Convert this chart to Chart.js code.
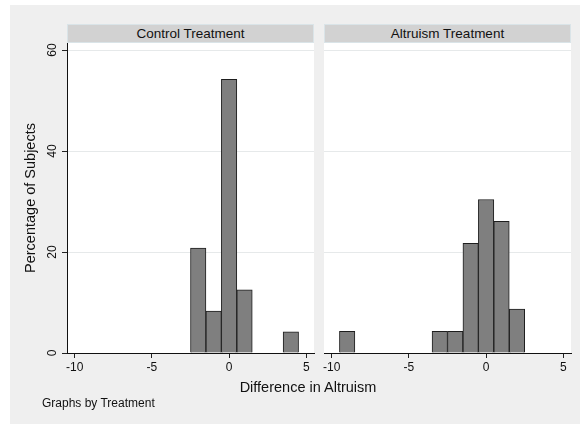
<!DOCTYPE html>
<html>
<head>
<meta charset="utf-8">
<script src="https://cdn.jsdelivr.net/npm/chart.js@4.4.1/dist/chart.umd.min.js"></script>
<style>
  html, body { margin: 0; padding: 0; background: #ffffff; }
  #wrap { position: relative; width: 580px; height: 426px; overflow: hidden; font-family: "Liberation Sans", Arial, sans-serif; color: #111; }
  #bg { position: absolute; left: 10px; top: 5px; width: 570px; height: 419px; background: #efefef; }
  canvas { position: absolute; left: 0; top: 0; }
  .strip { position: absolute; top: 24px; height: 17px; width: 245px; background: #d2d2d2; border: 1px solid #dae4e8;
           font-size: 13.5px; line-height: 17px; text-align: center; white-space: nowrap; }
  .txt { position: absolute; white-space: nowrap; line-height: 1; }
</style>
</head>
<body>
<div id="wrap">
  <div id="bg"></div>
  <canvas id="c1" width="580" height="426"></canvas>
  <canvas id="c2" width="580" height="426"></canvas>
  <div class="strip" id="s1" style="left:67px;"></div>
  <div class="strip" id="s2" style="left:324px;"></div>
  <div class="txt" id="xt" style="left:0; width:616px; text-align:center; top:380px; font-size:14.5px;"></div>
  <div class="txt" id="note" style="left:42px; top:397px; font-size:12px;"></div>
</div>
<script>
// ---- data ----
const panelTitles = ['Control Treatment', 'Altruism Treatment'];
const xTitle = 'Difference in Altruism';
const yTitle = 'Percentage of Subjects';
const noteText = 'Graphs by Treatment';
const xTicks = [-10, -5, 0, 5];
const yTicks = [0, 20, 40, 60];
const controlBins = [-2, -1, 0, 1, 4];
const controlPct = [20.8, 8.3, 54.2, 12.5, 4.2];
const altruismBins = [-9, -3, -2, -1, 0, 1, 2];
const altruismPct = [4.3, 4.3, 4.3, 21.7, 30.4, 26.1, 8.7];

document.getElementById('s1').textContent = panelTitles[0];
document.getElementById('s2').textContent = panelTitles[1];
document.getElementById('xt').textContent = xTitle;
document.getElementById('note').textContent = noteText;

const FONT = '"Liberation Sans", Arial, sans-serif';

const plotBg = {
  id: 'plotBg',
  beforeDraw(chart) {
    const a = chart.chartArea, ctx = chart.ctx;
    ctx.save();
    ctx.fillStyle = '#ffffff';
    ctx.fillRect(a.left, a.top, a.right - a.left, a.bottom - a.top);
    ctx.restore();
  }
};

function makeChart(id, bins, pct, isLeft) {
  const pts = bins.map((b, i) => ({ x: b, y: pct[i] }));
  return new Chart(document.getElementById(id), {
    type: 'bar',
    data: { datasets: [{
      data: pts,
      backgroundColor: '#7f7f7f',
      borderColor: '#1e1e1e',
      borderWidth: 1,
      borderSkipped: 'start',
      barPercentage: 1,
      categoryPercentage: 1
    }]},
    options: {
      responsive: false,
      animation: false,
      events: [],
      layout: {
        autoPadding: false,
        padding: isLeft ? { left: 22, right: 266, top: 43, bottom: 43 }
                        : { left: 324, right: 9, top: 43, bottom: 43 }
      },
      plugins: { legend: { display: false }, tooltip: { enabled: false }, title: { display: false } },
      scales: {
        x: {
          type: 'linear',
          min: -10.5, max: 5.5,
          offset: false,
          afterBuildTicks: s => { s.ticks = xTicks.map(v => ({ value: v })); },
          afterFit: s => { s.height = 30; },
          grid: { display: true, drawOnChartArea: false, drawTicks: true, tickLength: 5, tickColor: '#222', offset: false },
          border: { display: true, color: '#111', width: 1 },
          ticks: { padding: 2, color: '#111', font: { family: FONT, size: 12 }, maxRotation: 0, minRotation: 0 }
        },
        y: {
          type: 'linear',
          min: 0, max: 61.4,
          afterBuildTicks: s => { s.ticks = yTicks.map(v => ({ value: v })); },
          afterFit: s => { s.width = isLeft ? 45 : 0; },
          grid: { display: true, color: '#e6e9ea', lineWidth: 1, drawTicks: isLeft, tickLength: isLeft ? 5 : 0, tickColor: '#222' },
          border: { display: isLeft, color: '#111', width: 1 },
          ticks: { display: isLeft, padding: 3, color: '#111', crossAlign: 'center',
                   minRotation: 90, maxRotation: 90, font: { family: FONT, size: 12 } },
          title: { display: isLeft, text: yTitle, color: '#111', padding: 0,
                   font: { family: FONT, size: 14.5 } }
        }
      }
    },
    plugins: [plotBg]
  });
}

makeChart('c1', controlBins, controlPct, true);
makeChart('c2', altruismBins, altruismPct, false);
</script>
</body>
</html>
